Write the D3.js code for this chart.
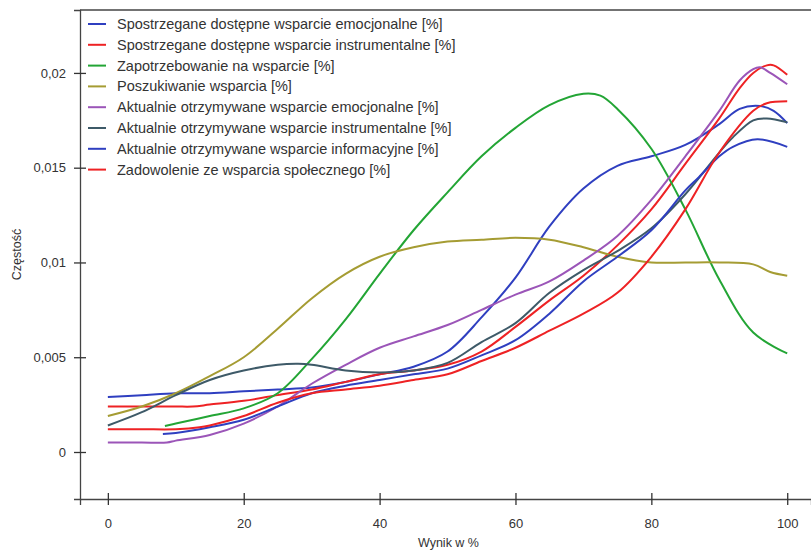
<!DOCTYPE html>
<html>
<head>
<meta charset="utf-8">
<script src="https://cdn.jsdelivr.net/npm/d3@7"></script>
<style>
  html, body { margin: 0; padding: 0; background: #fff; }
  svg { display: block; }
  text { font-family: "Liberation Sans", Arial, sans-serif; fill: #333; }
</style>
</head>
<body>
<svg id="chart" width="811" height="551"></svg>
<script>
// Density curves of scores (Wynik w %) for each support scale.
const seriesNames = [
  "Spostrzegane dostępne wsparcie emocjonalne [%]",
  "Spostrzegane dostępne wsparcie instrumentalne [%]",
  "Zapotrzebowanie na wsparcie [%]",
  "Poszukiwanie wsparcia [%]",
  "Aktualnie otrzymywane wsparcie emocjonalne [%]",
  "Aktualnie otrzymywane wsparcie instrumentalne [%]",
  "Aktualnie otrzymywane wsparcie informacyjne [%]",
  "Zadowolenie ze wsparcia społecznego [%]"
];
const seriesColors = ["#2f3fc0", "#ee2224", "#23a535", "#a59c33", "#9b55b8", "#3e5a68", "#2f3fc0", "#ee2224"];

// [score, density] pairs
const spostrzeganeEmocjonalne = [[0,0.0029],[5,0.0030],[10,0.0031],[15,0.0031],[20,0.0032],[25,0.0033],[30,0.0034],[35,0.0037],[40,0.0041],[45,0.0045],[50,0.0053],[55,0.0071],[60,0.0092],[65,0.0119],[70,0.0139],[75,0.0151],[80,0.0156],[85,0.0162],[90,0.0173],[93,0.0181],[96,0.01825],[98,0.0180],[100,0.01735]];
const spostrzeganeInstrumentalne = [[0,0.0024],[5,0.0024],[10,0.0024],[12.5,0.0024],[15,0.0025],[20,0.0027],[25,0.0030],[30,0.0033],[35,0.0037],[40,0.0041],[45,0.0043],[50,0.0046],[55,0.0053],[60,0.0066],[65,0.0080],[70,0.0093],[75,0.0109],[80,0.0128],[85,0.0152],[90,0.0176],[93,0.0192],[95,0.0200],[97,0.0204],[98,0.0204],[100,0.0199]];
const zapotrzebowanie = [[8.4,0.00137],[10,0.0015],[15,0.0019],[20,0.0023],[25,0.0031],[30,0.0049],[35,0.0070],[40,0.0094],[45,0.0117],[50,0.0137],[55,0.0156],[60,0.0171],[65,0.0183],[70,0.0189],[72.5,0.0188],[75,0.0181],[80,0.0160],[85,0.0128],[90,0.0091],[95,0.0063],[100,0.0052]];
const poszukiwanie = [[0,0.0019],[5,0.0024],[10,0.0031],[15,0.0040],[20,0.0050],[25,0.0065],[30,0.0081],[35,0.0094],[40,0.0103],[45,0.0108],[50,0.0111],[55,0.0112],[60,0.0113],[65,0.0112],[70,0.0108],[75,0.0103],[80,0.0100],[85,0.0100],[90,0.0100],[95,0.0099],[97.5,0.0095],[100,0.0093]];
const otrzymywaneEmocjonalne = [[0,0.0005],[5,0.0005],[8.7,0.0005],[10,0.0006],[15,0.0009],[20,0.0015],[25,0.0024],[30,0.0036],[35,0.0046],[40,0.0055],[45,0.0061],[50,0.0067],[55,0.0075],[60,0.0083],[65,0.0090],[70,0.0101],[75,0.0114],[80,0.0133],[85,0.0156],[90,0.0180],[93,0.0196],[95,0.0202],[96,0.0203],[97.5,0.0200],[100,0.0194]];
const otrzymywaneInstrumentalne = [[0,0.0014],[5,0.0021],[10,0.0030],[15,0.0038],[20,0.0043],[25,0.0046],[28,0.00465],[30,0.0046],[35,0.0043],[40,0.0042],[45,0.0043],[50,0.0047],[55,0.0058],[60,0.0068],[65,0.0084],[70,0.0096],[75,0.0106],[80,0.0118],[85,0.0136],[90,0.0158],[92,0.0166],[95,0.0175],[97,0.0176],[100,0.0174]];
const otrzymywaneInformacyjne = [[8.1,0.00095],[10,0.0010],[15,0.0013],[20,0.0017],[25,0.0024],[30,0.0031],[35,0.0035],[40,0.0038],[45,0.0041],[50,0.0044],[55,0.0051],[60,0.0059],[65,0.0073],[70,0.0090],[75,0.0103],[80,0.0117],[85,0.0138],[87,0.0145],[90,0.0156],[92,0.0161],[95.6,0.0165],[100,0.0161]];
const zadowolenie = [[0,0.0012],[5,0.0012],[10,0.0012],[13.5,0.0013],[15,0.0014],[20,0.0019],[25,0.0026],[30,0.0031],[35,0.0033],[40,0.0035],[45,0.0038],[50,0.0041],[55,0.0048],[60,0.0055],[65,0.0064],[70,0.0073],[75,0.0084],[80,0.0103],[85,0.0128],[90,0.0158],[95,0.0180],[97,0.0184],[100,0.0185]];

const seriesValues = [
  spostrzeganeEmocjonalne, spostrzeganeInstrumentalne, zapotrzebowanie, poszukiwanie,
  otrzymywaneEmocjonalne, otrzymywaneInstrumentalne, otrzymywaneInformacyjne, zadowolenie
];

const xTicks = [0, 20, 40, 60, 80, 100];
const yTicks = [0, 0.005, 0.01, 0.015, 0.02];
const xLabel = "Wynik w %";
const yLabel = "Częstość";

const svg = d3.select("#chart");
const plot = { left: 80, right: 811, top: 10, bottom: 499 };

const x = d3.scaleLinear().domain([-4.1, 103.5]).range([plot.left, plot.right]);
const y = d3.scaleLinear().domain([-0.00248, 0.02332]).range([plot.bottom, plot.top]);

const plLocale = d3.formatLocale({ decimal: ",", thousands: " ", grouping: [3], currency: ["", " zł"] });
const fmtY = plLocale.format("~g");

// frame: top border
svg.append("line")
  .attr("x1", plot.left).attr("x2", plot.right)
  .attr("y1", plot.top).attr("y2", plot.top)
  .attr("stroke", "#444").attr("stroke-width", 1.3);

// x axis
const xAxis = svg.append("g")
  .attr("transform", `translate(0,${plot.bottom})`)
  .call(d3.axisBottom(x).tickValues(xTicks).tickSizeOuter(0).tickSize(6).tickPadding(14));
xAxis.select(".domain").attr("stroke", "#444").attr("stroke-width", 1.3);
xAxis.selectAll(".tick line").attr("y1", -6).attr("y2", 6).attr("stroke", "#333").attr("stroke-width", 1.3);
xAxis.selectAll(".tick text").attr("font-size", 13).attr("fill", "#333")
  .style("font-family", "'Liberation Sans', Arial, sans-serif");

// y axis
const yAxis = svg.append("g")
  .attr("transform", `translate(${plot.left},0)`)
  .call(d3.axisLeft(y).tickValues(yTicks).tickFormat(fmtY).tickSizeOuter(0).tickSize(6).tickPadding(8));
yAxis.select(".domain").attr("stroke", "#444").attr("stroke-width", 1.3);
yAxis.selectAll(".tick line").attr("x1", -6).attr("x2", 6).attr("stroke", "#333").attr("stroke-width", 1.3);
yAxis.selectAll(".tick text").attr("font-size", 13).attr("fill", "#333")
  .style("font-family", "'Liberation Sans', Arial, sans-serif");

// axis titles
svg.append("text")
  .attr("x", (plot.left + plot.right) / 2 + 3).attr("y", 547)
  .attr("text-anchor", "middle").attr("font-size", 12.5)
  .text(xLabel);
svg.append("text")
  .attr("transform", `translate(21,${(plot.top + plot.bottom) / 2}) rotate(-90)`)
  .attr("text-anchor", "middle").attr("font-size", 12.5)
  .text(yLabel);

// density curves
const line = d3.line()
  .x(d => x(d[0]))
  .y(d => y(d[1]))
  .curve(d3.curveCatmullRom.alpha(0.5));

svg.append("g")
  .selectAll("path")
  .data(seriesValues)
  .join("path")
  .attr("d", line)
  .attr("fill", "none")
  .attr("stroke", (d, i) => seriesColors[i])
  .attr("stroke-width", 2)
  .attr("stroke-linejoin", "round");

// legend
const legend = svg.append("g").attr("transform", "translate(88,24)");
const rows = legend.selectAll("g")
  .data(seriesNames)
  .join("g")
  .attr("transform", (d, i) => `translate(0,${i * 20.8})`);
rows.append("line")
  .attr("x1", 0).attr("x2", 18)
  .attr("stroke", (d, i) => seriesColors[i])
  .attr("stroke-width", 2);
rows.append("text")
  .attr("x", 29).attr("y", 5)
  .attr("font-size", 14.5)
  .text(d => d);
</script>
</body>
</html>
